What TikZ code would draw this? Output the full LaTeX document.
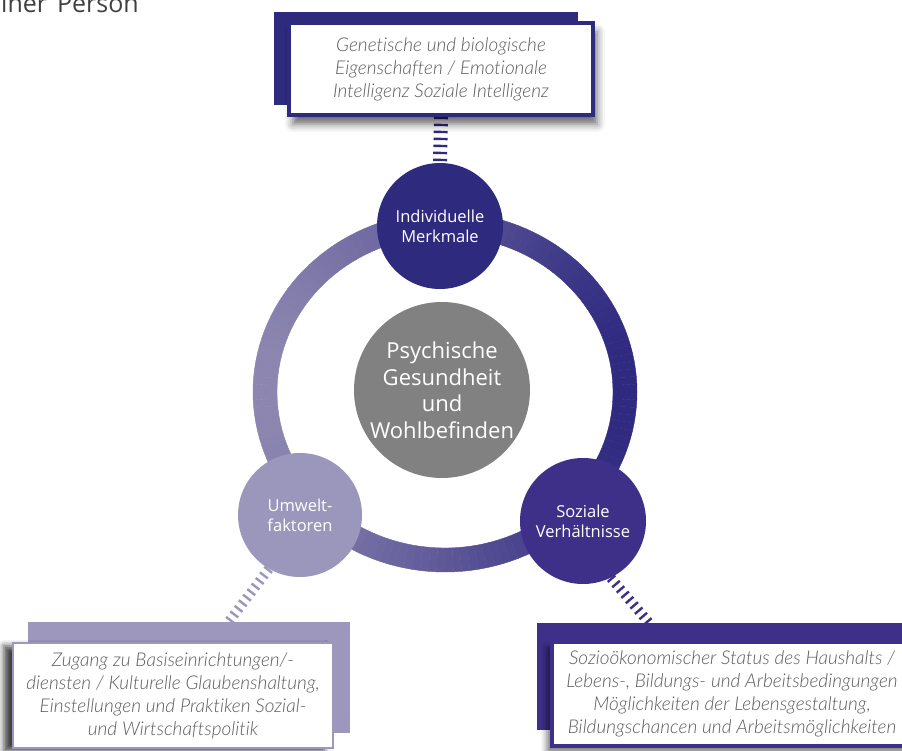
\documentclass[tikz,border=0pt]{standalone}
\usepackage{fontspec}
\setmainfont{Open Sans}
\IfFontExistsTF{Lato Light Italic}{\newfontfamily\bxf{Lato Light Italic}[Ligatures=NoCommon]\newcommand\boxtextfont{\bxf}}{\newfontfamily\bxf{Lato}[Ligatures=NoCommon]\newcommand\boxtextfont{\bxf\itshape}}
\usetikzlibrary{shadows,shadows.blur,calc}
\pgfdeclarelayer{bg}
\pgfsetlayers{bg,main}
\definecolor{indA}{RGB}{46,42,126}
\definecolor{indB}{RGB}{62,47,137}
\definecolor{lav}{RGB}{155,150,188}
\definecolor{lavbox}{RGB}{157,151,189}
\definecolor{grayc}{RGB}{128,129,128}
\definecolor{ringL}{RGB}{140,134,176}
\definecolor{ringR}{RGB}{47,42,128}
\definecolor{boxtext}{RGB}{92,92,92}
\begin{document}
\begin{tikzpicture}[x=1pt,y=-1pt,
  bubble/.style={circle, inner sep=0pt, text=white, align=center, font=\fontsize{16.5}{20}\selectfont},
  backrect/.style={rectangle, inner sep=0pt},
  infobox/.style={rectangle, fill=white, inner sep=0pt, align=center, text=boxtext, font=\boxtextfont\fontsize{19}{23}\selectfont},
  stripes/.style={line width=#1, dash pattern=on 2.4pt off 4.6pt},
]
\useasboundingbox (0,0) rectangle (902,751);

% ring (horizontal gradient, drawn as thin sectors)
\foreach \a in {0,2.5,...,357.5}{
  \pgfmathsetmacro\p{50+50*cos(\a+1.25)}
  \fill[ringR!\p!ringL, draw=ringR!\p!ringL, line width=0.4pt]
    ($(445,392)+(\a:192 and 180)$) arc[start angle=\a, delta angle=2.5, x radius=192, y radius=180]
    -- ($(445,392)+(\a+2.5:168 and 156)$)
    arc[start angle=\a+2.5, delta angle=-2.5, x radius=168, y radius=156] -- cycle;
}

% cut-off title
\node[anchor=base west, inner sep=0pt, text=black!75, font=\fontsize{25}{29}\selectfont] (title) at (-13,13) {einer\hspace{10pt}Person};

% central circle
\node[circle, inner sep=0pt, minimum size=176, fill=grayc, text=white, align=center,
      font=\fontsize{22}{26.5}\selectfont] (center) at (442,390)
  {Psychische\\Gesundheit\\und\\Wohlbefinden};

% satellite circles
\node[bubble, minimum size=126, fill=indA] (indiv) at (440,226) {Individuelle\\Merkmale};
\node[bubble, minimum size=124, fill=lav] (umwelt) at (300,515) {Umwelt-\\faktoren};
\node[bubble, minimum size=126, fill=indB] (sozial) at (583,521) {Soziale\\Verhältnisse};

% top box
\node[backrect, fill=indA, minimum width=304, minimum height=93] (topback) at (426,58.5) {};
\node[infobox, draw=indA, line width=3.5pt, minimum width=304, minimum height=92,
      blur shadow={shadow xshift=4pt, shadow yshift=-9pt, shadow blur radius=8pt, shadow opacity=60}]
  (topbox) at (441,69)
  {Genetische und biologische\\Eigenschaften / Emotionale\\Intelligenz Soziale Intelligenz};

% left box
\node[backrect, fill=lavbox, minimum width=322, minimum height=111] (leftback) at (189,677.5) {};
\node[infobox, draw=lavbox, line width=2pt, minimum width=320, minimum height=105,
      blur shadow={shadow xshift=-9pt, shadow yshift=-3pt, shadow blur radius=6pt, shadow opacity=75}]
  (leftbox) at (173,695.5)
  {Zugang zu Basiseinrichtungen/-\\diensten / Kulturelle Glaubenshaltung,\\Einstellungen und Praktiken Sozial-\\und Wirtschaftspolitik};

% right box
\node[backrect, fill=indB, minimum width=375, minimum height=107] (rightback) at (724.5,676.5) {};
\node[infobox, draw=indB, line width=3.5pt, minimum width=360, minimum height=104,
      blur shadow={shadow xshift=-5pt, shadow yshift=-6pt, shadow blur radius=6pt, shadow opacity=55}]
  (rightbox) at (732,694)
  {Sozioökonomischer Status des Haushalts /\\Lebens-, Bildungs- und Arbeitsbedingungen\\Möglichkeiten der Lebensgestaltung,\\Bildungschancen und Arbeitsmöglichkeiten};

% connectors
\coordinate (lc) at (227,624);
\coordinate (rc) at (650,624);
\begin{pgfonlayer}{bg}
\draw[stripes=14pt, draw=indA] (topbox.south) -- (indiv.north);
\draw[stripes=10pt, draw=lav] (umwelt.240) -- (lc);
\draw[stripes=10pt, draw=indB] (sozial.296) -- (rc);
\end{pgfonlayer}
\end{tikzpicture}
\end{document}
